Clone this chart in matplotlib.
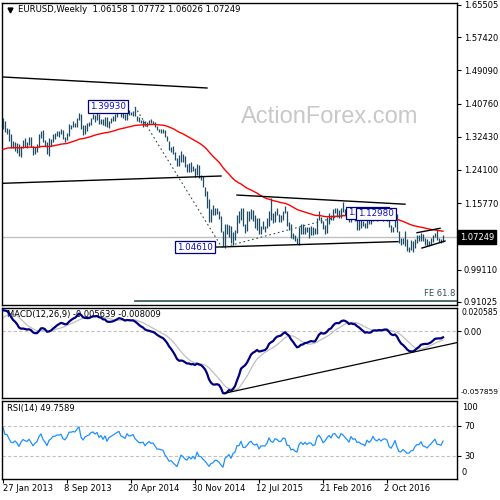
import numpy as np
import pandas as pd
import matplotlib
matplotlib.use('Agg')
import matplotlib.pyplot as plt
import matplotlib.transforms as mtransforms
from matplotlib.patches import Rectangle

plt.rcParams['font.family'] = ['DejaVu Sans']

# ==================== DATA ====================
# weekly bars, first bar = week of 27 Jan 2013
first_week = '2013-01-27'

highs = [
    # 2013
    1.3711, 1.3640, 1.3470, 1.3440, 1.3320, 1.3130, 1.3100, 1.3080, 1.3050, 1.3005,
    1.3150, 1.3210, 1.3110, 1.3245, 1.3240, 1.3015, 1.2995, 1.3060, 1.3305, 1.3390,
    1.3415, 1.3170, 1.3110, 1.3205, 1.3175, 1.3300, 1.3345, 1.3400, 1.3390, 1.3450,
    1.3420, 1.3225, 1.3340, 1.3570, 1.3550, 1.3645, 1.3590, 1.3705, 1.3830, 1.3810,
    1.3530, 1.3530, 1.3590, 1.3620, 1.3710, 1.3810, 1.3795, 1.3895, 1.3815,
    # 2014
    1.3690, 1.3700, 1.3740, 1.3740, 1.3640, 1.3705, 1.3775, 1.3825, 1.3915, 1.3965,
    1.3930, 1.3875, 1.3810, 1.3905, 1.3905, 1.3860, 1.3890, 1.3993, 1.3775, 1.3735,
    1.3670, 1.3670, 1.3645, 1.3615, 1.3660, 1.3700, 1.3650, 1.3625, 1.3525, 1.3445,
    1.3445, 1.3435, 1.3405, 1.3250, 1.3145, 1.2990, 1.3000, 1.2860, 1.2705, 1.2790,
    1.2885, 1.2815, 1.2770, 1.2550, 1.2575, 1.2600, 1.2500, 1.2455, 1.2570, 1.2530,
    1.2290, 1.2250,
    # 2015
    1.1990, 1.1870, 1.1680, 1.1420, 1.1535, 1.1445, 1.1450, 1.1390, 1.1245, 1.0885,
    1.1045, 1.1050, 1.1035, 1.1000, 1.0850, 1.0900, 1.1290, 1.1390, 1.1465, 1.1445,
    1.1060, 1.1380, 1.1385, 1.1435, 1.1410, 1.1280, 1.1215, 1.1200, 1.0995, 1.1130,
    1.1000, 1.1215, 1.1390, 1.1715, 1.1330, 1.1370, 1.1460, 1.1300, 1.1285, 1.1385,
    1.1495, 1.1390, 1.1095, 1.1045, 1.0830, 1.0770, 1.0690, 1.0980, 1.1045, 1.1060,
    1.0990, 1.0990,
    # 2016 - 2017
    1.0970, 1.0995, 1.0985, 1.0965, 1.1200, 1.1375, 1.1240, 1.1140, 1.1040, 1.1220,
    1.1340, 1.1285, 1.1440, 1.1465, 1.1465, 1.1400, 1.1460, 1.1615, 1.1435, 1.1350,
    1.1250, 1.1375, 1.1415, 1.1300, 1.1425, 1.1165, 1.1185, 1.1120, 1.1075, 1.1200,
    1.1235, 1.1195, 1.1365, 1.1345, 1.1240, 1.1325, 1.1285, 1.1235, 1.1270, 1.1255,
    1.1215, 1.1035, 1.0990, 1.1145, 1.1300, 1.0870, 1.0690, 1.0690, 1.0875, 1.0670,
    1.0480, 1.0655, 1.0615, 1.0685, 1.0775, 1.0775, 1.0830, 1.0800, 1.0710, 1.0680,
    1.0630, 1.0700, 1.0785, 1.0820, 1.0905, 1.0695, 1.0680, 1.07772,
]

lows = [
    # 2013
    1.3440, 1.3350, 1.3310, 1.3145, 1.2965, 1.2955, 1.2880, 1.2840, 1.2750, 1.2745,
    1.2960, 1.2990, 1.2950, 1.3025, 1.2985, 1.2795, 1.2815, 1.2860, 1.2985, 1.3205,
    1.3105, 1.3000, 1.2800, 1.2755, 1.3010, 1.3120, 1.3185, 1.3255, 1.3225, 1.3310,
    1.3175, 1.3105, 1.3170, 1.3255, 1.3440, 1.3485, 1.3480, 1.3495, 1.3670, 1.3440,
    1.3295, 1.3320, 1.3400, 1.3515, 1.3535, 1.3690, 1.3625, 1.3670, 1.3570,
    # 2014
    1.3575, 1.3530, 1.3510, 1.3480, 1.3475, 1.3585, 1.3640, 1.3645, 1.3740, 1.3855,
    1.3750, 1.3705, 1.3675, 1.3675, 1.3790, 1.3780, 1.3775, 1.3755, 1.3650, 1.3615,
    1.3585, 1.3500, 1.3520, 1.3505, 1.3560, 1.3590, 1.3575, 1.3490, 1.3425, 1.3365,
    1.3335, 1.3340, 1.3235, 1.3130, 1.2920, 1.2860, 1.2815, 1.2670, 1.2500, 1.2500,
    1.2615, 1.2615, 1.2480, 1.2360, 1.2355, 1.2360, 1.2385, 1.2245, 1.2290, 1.2220,
    1.2165, 1.1985,
    # 2015
    1.1755, 1.1460, 1.1100, 1.1095, 1.1270, 1.1270, 1.1315, 1.1175, 1.0840, 1.0490,
    1.0461, 1.0800, 1.0715, 1.0570, 1.0520, 1.0660, 1.0820, 1.1085, 1.1145, 1.1000,
    1.0820, 1.0890, 1.1130, 1.1190, 1.1120, 1.0955, 1.0915, 1.0810, 1.0810, 1.0920,
    1.0850, 1.0960, 1.1015, 1.1155, 1.1085, 1.1100, 1.1275, 1.1105, 1.1105, 1.1160,
    1.1325, 1.1010, 1.0895, 1.0705, 1.0675, 1.0615, 1.0560, 1.0525, 1.0795, 1.0805,
    1.0805, 1.0855,
    # 2016 - 2017
    1.0710, 1.0775, 1.0780, 1.0800, 1.0810, 1.1150, 1.1070, 1.0925, 1.0810, 1.0820,
    1.1060, 1.1145, 1.1145, 1.1325, 1.1235, 1.1215, 1.1215, 1.1365, 1.1290, 1.1195,
    1.1100, 1.1095, 1.1240, 1.1130, 1.0910, 1.0910, 1.0950, 1.1000, 1.0950, 1.0950,
    1.1045, 1.1045, 1.1140, 1.1185, 1.1125, 1.1150, 1.1150, 1.1125, 1.1160, 1.1125,
    1.0970, 1.0860, 1.0850, 1.0975, 1.0850, 1.0570, 1.0520, 1.0560, 1.0505, 1.0365,
    1.0350, 1.0390, 1.0340, 1.0455, 1.0575, 1.0620, 1.0620, 1.0620, 1.0520, 1.0495,
    1.0495, 1.0525, 1.0600, 1.0735, 1.0650, 1.0605, 1.0570, 1.06026,
]

closes = [
    # 2013
    1.3637, 1.3365, 1.3363, 1.3188, 1.3020, 1.3000, 1.3075, 1.2985, 1.2815, 1.2995,
    1.3110, 1.3055, 1.3030, 1.3115, 1.2990, 1.2835, 1.2930, 1.2995, 1.3220, 1.3345,
    1.3120, 1.3010, 1.2825, 1.3065, 1.3140, 1.3275, 1.3280, 1.3345, 1.3335, 1.3380,
    1.3220, 1.3180, 1.3300, 1.3525, 1.3525, 1.3555, 1.3545, 1.3685, 1.3805, 1.3485,
    1.3365, 1.3500, 1.3555, 1.3595, 1.3705, 1.3740, 1.3675, 1.3745, 1.3590,
    # 2014
    1.3670, 1.3540, 1.3680, 1.3485, 1.3635, 1.3690, 1.3740, 1.3805, 1.3875, 1.3910,
    1.3780, 1.3750, 1.3705, 1.3885, 1.3815, 1.3830, 1.3870, 1.3755, 1.3695, 1.3630,
    1.3635, 1.3645, 1.3540, 1.3600, 1.3645, 1.3595, 1.3605, 1.3525, 1.3430, 1.3430,
    1.3410, 1.3400, 1.3240, 1.3130, 1.2950, 1.2960, 1.2830, 1.2685, 1.2520, 1.2630,
    1.2760, 1.2670, 1.2525, 1.2450, 1.2525, 1.2390, 1.2450, 1.2290, 1.2465, 1.2225,
    1.2185, 1.2000,
    # 2015
    1.1840, 1.1565, 1.1205, 1.1290, 1.1315, 1.1390, 1.1375, 1.1195, 1.0845, 1.0495,
    1.0820, 1.0890, 1.0970, 1.0600, 1.0810, 1.0875, 1.1200, 1.1200, 1.1445, 1.1015,
    1.0990, 1.1110, 1.1265, 1.1350, 1.1165, 1.1110, 1.1160, 1.0830, 1.0980, 1.0985,
    1.0970, 1.1105, 1.1385, 1.1185, 1.1150, 1.1340, 1.1300, 1.1195, 1.1210, 1.1360,
    1.1350, 1.1015, 1.1005, 1.0740, 1.0770, 1.0645, 1.0590, 1.0885, 1.0990, 1.0865,
    1.0965, 1.0860,
    # 2016 - 2017
    1.0925, 1.0915, 1.0795, 1.0830, 1.1155, 1.1255, 1.1130, 1.0930, 1.1000, 1.1155,
    1.1270, 1.1170, 1.1390, 1.1400, 1.1285, 1.1225, 1.1455, 1.1405, 1.1310, 1.1220,
    1.1115, 1.1365, 1.1250, 1.1280, 1.1115, 1.1135, 1.1050, 1.1035, 1.0975, 1.1175,
    1.1085, 1.1160, 1.1325, 1.1200, 1.1155, 1.1235, 1.1155, 1.1225, 1.1240, 1.1200,
    1.0970, 1.0885, 1.0985, 1.1140, 1.0855, 1.0590, 1.0590, 1.0665, 1.0560, 1.0450,
    1.0455, 1.0520, 1.0530, 1.0645, 1.0705, 1.0700, 1.0785, 1.0640, 1.0615, 1.0560,
    1.0620, 1.0670, 1.0740, 1.0800, 1.0650, 1.0640, 1.0615, 1.07249,
]

# 2012 weekly closes, only used to warm up the indicators
closes_2012 = [
    1.2720, 1.2680, 1.2930, 1.3215, 1.3160, 1.3195, 1.3240, 1.3450, 1.3200, 1.3120,
    1.3170, 1.3270, 1.3340, 1.3090, 1.3075, 1.3220, 1.3240, 1.3080, 1.2920, 1.2780,
    1.2520, 1.2430, 1.2520, 1.2640, 1.2570, 1.2660, 1.2290, 1.2250, 1.2155, 1.2310,
    1.2390, 1.2290, 1.2335, 1.2520, 1.2575, 1.2815, 1.3130, 1.2980, 1.2860, 1.3040,
    1.2950, 1.3020, 1.2940, 1.2830, 1.2710, 1.2740, 1.2970, 1.2985, 1.2925, 1.3160,
    1.3180, 1.3220, 1.3070, 1.3365, 1.3315, 1.3460,
]

last_bar = [1.06158, 1.07772, 1.06026, 1.07249]  # O H L C shown in the header
price_ticks = [1.65505, 1.57420, 1.49090, 1.40760, 1.32430, 1.24100, 1.15770, 1.07440, 0.99110, 0.91025]
macd_text = 'MACD(12,26,9) -0.005639 -0.008009'
rsi_text = 'RSI(14) 49.7589'

# drawn objects: (bar index, price)
line_top = [(0, 1.4743), (102, 1.4467)]
line_mid = [(0, 1.2075), (109, 1.2258)]
chan_top = [(117, 1.1780), (201, 1.1550)]
chan_bot = [(104, 1.0470), (197.5, 1.0611)]
wedge_top = [(207, 1.0835), (218.5, 1.0945)]
wedge_bot = [(209.5, 1.0450), (221, 1.0626)]
fe_points = [(66, 1.3993), (109.5, 1.0461), (172, 1.1298)]
macd_trend = [(111, -0.0541), (227, -0.0100)]

# ==================== INDICATORS ====================
allc = pd.Series(closes_2012 + closes)
n0 = len(closes_2012)
ema55 = allc.ewm(span=55, adjust=False).mean().values[n0:]
macd_all = allc.ewm(span=12, adjust=False).mean() - allc.ewm(span=26, adjust=False).mean()
sig_all = macd_all.rolling(9).mean()
delta = allc.diff()
gain = delta.clip(lower=0).ewm(alpha=1/14, adjust=False).mean()
loss = (-delta.clip(upper=0)).ewm(alpha=1/14, adjust=False).mean()
rsi_all = 100 - 100 / (1 + gain / loss)
macd = macd_all.values[n0:]
sig = sig_all.values[n0:]
rsi = rsi_all.values[n0:]

n = len(closes)
idx = np.arange(n)
dates = pd.date_range(first_week, periods=n, freq='7D')

# ==================== FIGURE ====================
W = H = 500
fig = plt.figure(figsize=(5, 5), dpi=100)

def px_box(x0, y0, x1, y1):
    return [x0 / W, 1 - y1 / H, (x1 - x0) / W, (y1 - y0) / H]

ax = fig.add_axes(px_box(2, 2.7, 457, 305))
axm = fig.add_axes(px_box(2, 307.5, 457, 397.5))
axr = fig.add_axes(px_box(2, 400.5, 457, 479))

xlim = (-0.5, 227)
for a in (ax, axm, axr):
    a.set_xlim(*xlim)
    a.set_facecolor('white')
    for s in a.spines.values():
        s.set_color('black')
        s.set_linewidth(1.0)
    a.yaxis.tick_right()
    a.tick_params(axis='y', direction='out', length=3, width=0.8, labelsize=6, pad=2, colors='black')
    a.set_xticks([])

FS = 6
bar_col = '#1d4b63'
slate = '#2f4f4f'
navy = '#000080'

# ---- main price panel ----
ax.set_ylim(0.9020, 1.6608)
ax.set_yticks(price_ticks)
ax.set_yticklabels(['' if abs(t - 1.0744) < 1e-6 else f'{t:.5f}' for t in price_ticks])

ax.text(163.5, 1.374, 'ActionForex.com', fontsize=17, color='#c8c8c8',
        family='Liberation Sans', ha='center', va='center', zorder=0)

ax.axhline(last_bar[3], color='#c0c0c0', lw=1.0, zorder=1)
ax.vlines(idx, lows, highs, color=bar_col, lw=0.9, zorder=3)
ax.plot(idx, ema55, color='red', lw=1.0, zorder=4)

for seg in (line_top, line_mid, chan_top, chan_bot, wedge_top, wedge_bot):
    (x0, y0), (x1, y1) = seg
    ax.plot([x0, x1], [y0, y1], color='black', lw=1.0, zorder=5)

(ax_, ay_), (bx_, by_), (cx_, cy_) = fe_points
ax.plot([ax_, bx_], [ay_, by_], color=slate, lw=0.8, ls=(0, (1.5, 2.5)), zorder=5)
ax.plot([bx_, cx_], [by_, cy_], color=slate, lw=0.8, ls=(0, (1.5, 2.5)), zorder=5)
fe618 = cy_ - 0.618 * (ay_ - by_)
ax.plot([ax_, xlim[1]], [fe618, fe618], color=slate, lw=1.2, zorder=5)
ax.text(226, fe618 + 0.0085, 'FE 61.8', fontsize=FS, color=slate, ha='right', va='bottom')

box_kw = dict(boxstyle='square,pad=0.2', fc='white', ec=navy, lw=0.9)
ax.text(61.5, 1.4000, '1.39930', fontsize=6.3, color='#1010c0', ha='right', va='center', bbox=box_kw, zorder=6)
ax.text(105, 1.0475, '1.04610', fontsize=6.3, color='#1010c0', ha='right', va='center', bbox=box_kw, zorder=6)
# older label mostly hidden behind the newer one: only its box and "1." show
ax.add_patch(Rectangle((171.5, 1.1185), 21.5, 0.0300, fc='white', ec=navy, lw=0.9, zorder=6))
ax.text(172.6, 1.1330, '1.', fontsize=6.3, color='#1010c0', ha='left', va='center', zorder=6)
ax.text(177.5, 1.1310, '1.12980', fontsize=6.3, color='#1010c0', ha='left', va='center', bbox=box_kw, zorder=7)

# header
ax.plot([0.0165], [0.976], marker='v', color='black', ms=3.5, transform=ax.transAxes, clip_on=False)
hdr = 'EURUSD,Weekly  ' + ' '.join(f'{v:.5f}' for v in last_bar)
ax.text(0.035, 0.976, hdr, fontsize=6.1, color='black', ha='left', va='center', transform=ax.transAxes)

# current price tag
trans = mtransforms.blended_transform_factory(ax.transAxes, ax.transData)
ax.text(1.006, last_bar[3], f'{last_bar[3]:.5f}', fontsize=6, color='white', ha='left', va='center',
        transform=trans, clip_on=False,
        bbox=dict(boxstyle='square,pad=0.25', fc='black', ec='black'))

# ---- MACD panel ----
axm.set_ylim(-0.057859, 0.020585)
axm.set_yticks([0.0])
axm.set_yticklabels(['0.00'])
axm.axhline(0, color='#c0c0c0', lw=0.8, ls=(0, (3, 2)), zorder=1)
axm.plot(idx, sig, color='#c0c0c0', lw=0.9, zorder=2)
axm.plot(idx, macd, color=navy, lw=1.6, zorder=3)
(x0, y0), (x1, y1) = macd_trend
axm.plot([x0, x1], [y0, y1], color='black', lw=0.9, zorder=4)
xr = (462 - 2) / 455
axm.text(xr, 0.939, '0.020585', fontsize=5.6, ha='left', va='center', transform=axm.transAxes)
axm.text(xr - 0.003, 0.064, '-0.057859', fontsize=5.3, ha='left', va='center', transform=axm.transAxes, clip_on=False)
axm.text(0.011, 0.917, macd_text, fontsize=FS, ha='left', va='center', transform=axm.transAxes, zorder=2)

# ---- RSI panel ----
axr.set_ylim(-1.07, 103.6)
axr.set_yticks([70, 30])
axr.set_yticklabels(['70', '30'])
for lev in (70, 30):
    axr.axhline(lev, color='#c0c0c0', lw=0.8, ls=(0, (3, 2)))
axr.plot(idx, rsi, color='#1e90ff', lw=0.9)
axr.text(xr, 0.913, '100', fontsize=FS, ha='left', va='center', transform=axr.transAxes)
axr.text(xr, 0.085, '0', fontsize=FS, ha='left', va='center', transform=axr.transAxes)
axr.text(0.011, 0.892, rsi_text, fontsize=FS, ha='left', va='center', transform=axr.transAxes)

tick_i = list(range(0, n, 32))
axr.set_xticks(tick_i)
axr.tick_params(axis='x', direction='out', length=3, width=0.8, labelbottom=False)
transr = mtransforms.blended_transform_factory(axr.transData, axr.transAxes)
for i in tick_i:
    lab = f'{dates[i].day} {dates[i]:%b %Y}'
    axr.text(max(i - 1.5, 0), -0.127, lab, fontsize=FS, ha='left', va='center',
             transform=transr, clip_on=False)

fig.savefig('out.png', dpi=100)
